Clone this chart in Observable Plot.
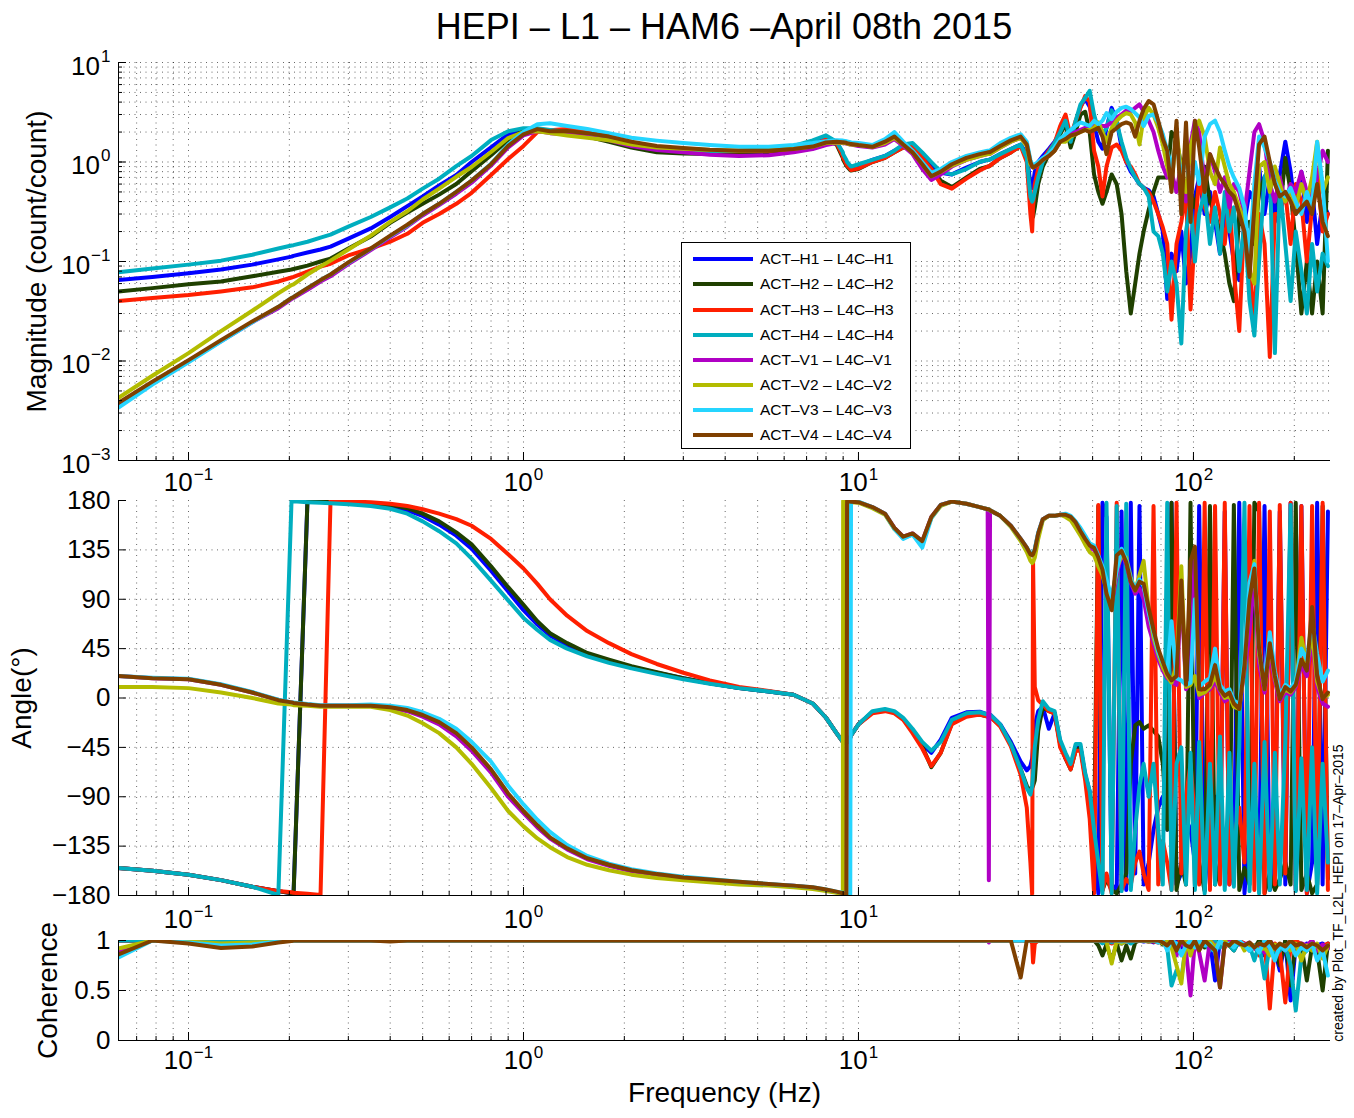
<!DOCTYPE html>
<html><head><meta charset="utf-8">
<script src="https://cdn.jsdelivr.net/npm/d3@7"></script>
<script src="https://cdn.jsdelivr.net/npm/@observablehq/plot@0.6"></script>
<style>
body{margin:0;background:#fff;}
#wrap{position:relative;width:1354px;height:1118px;font-family:"Liberation Sans",Arial,Helvetica,sans-serif;overflow:hidden;background:#fff;}
.panel{position:absolute;left:0;}
#title{position:absolute;left:118px;width:1212px;top:5px;text-align:center;font-size:36px;line-height:44px;color:#000;white-space:nowrap;}
#legend{position:absolute;left:681px;top:242px;width:230px;height:207px;border:1px solid #000;background:#fff;box-sizing:border-box;}
.lgline{position:absolute;left:11px;width:60px;height:4px;}
.lgtext{position:absolute;left:78px;font-size:15.5px;line-height:20px;white-space:nowrap;color:#000;}
#side{position:absolute;left:1338px;top:893px;transform:translate(-50%,-50%) rotate(-90deg);font-size:14px;white-space:nowrap;color:#000;}
#err{position:absolute;left:10px;top:10px;color:red;font-size:14px;}
</style></head>
<body>
<div id="wrap">
  <div id="title">HEPI – L1 – HAM6 –April 08th 2015</div>
  <div id="p1" class="panel" style="top:0px"></div>
  <div id="p2" class="panel" style="top:460px"></div>
  <div id="p3" class="panel" style="top:900px"></div>
  <div id="legend"></div>
  <div id="side">created by Plot_TF_L2L_HEPI on 17–Apr–2015</div>
  <div id="err"></div>
</div>
<script>
// ---------------- DATA ----------------
const freq = [
  0.0618, 0.078, 0.1, 0.125, 0.155, 0.1854, 0.203, 0.2058, 0.2265, 0.2478,
  0.2654, 0.3, 0.35, 0.4, 0.45, 0.5, 0.56, 0.63, 0.7, 0.8,
  0.9, 1.0, 1.1, 1.2, 1.35, 1.55, 1.8, 2.1, 2.5, 3.0,
  3.6, 4.4, 5.4, 6.4, 7.3, 8.0, 8.6, 8.98, 9.0, 9.2,
  9.25, 9.45, 9.5, 10.0, 11.0, 12.0, 12.8, 13.6, 14.5, 15.5,
  16.5, 17.6, 19.0, 21.0, 23.0, 24.3, 24.5, 24.7, 26.5, 28.5,
  30.5, 31.8, 32.6, 33.0, 33.2, 33.6, 34.4, 35.5, 37.0, 38.5, 40.0,
  41.5, 43, 44.5, 46, 47.5,
  49, 50.5, 52, 53.5, 55,
  57, 59, 61, 63, 65,
  67, 69, 71, 73.5, 76,
  78.5, 81, 83.5, 86, 89,
  92, 95, 98, 101, 104,
  108, 112, 116, 120, 124,
  128, 132, 137, 142, 147,
  152, 157, 163, 169, 175,
  181, 188, 195, 202, 210,
  218, 226, 234, 243, 252
];

const seriesNames = ["ACT–H1 – L4C–H1","ACT–H2 – L4C–H2","ACT–H3 – L4C–H3","ACT–H4 – L4C–H4",
                     "ACT–V1 – L4C–V1","ACT–V2 – L4C–V2","ACT–V3 – L4C–V3","ACT–V4 – L4C–V4"];
const seriesColors = ["#0000ff","#1f4000","#ff1f00","#00aebf","#b000c4","#b3bc00","#25d5ff","#7f4000"];

// Magnitude (count/count)
const magH1 = [
  0.065, 0.070, 0.076, 0.083, 0.093, 0.105, 0.112, 0.114, 0.123, 0.132,
  0.141, 0.17, 0.215, 0.28, 0.36, 0.45, 0.58, 0.74, 1.0, 1.4,
  1.9, 2.14, 2.14, 2.04, 1.95, 1.8, 1.65, 1.45, 1.35, 1.3,
  1.28, 1.28, 1.3, 1.4, 1.6, 1.8, 1.6, 1.2, 1.15, 1.0,
  0.97, 0.9, 0.88, 0.92, 1.05, 1.15, 1.3, 1.45, 1.5, 1.2,
  0.95, 0.78, 0.75, 0.88, 1.0, 1.05, 1.05, 1.06, 1.2, 1.35,
  1.5, 1.2, 0.6, 0.55, 0.6, 0.8, 1.0, 1.15, 1.35, 1.6, 2.0,
  2.6, 1.5, 2.4, 3.6, 4.3,
  3.6, 2.4, 1.6, 1.36, 2.2,
  3.5, 2.6, 1.4, 1.0, 0.8,
  0.7, 0.6, 0.55, 0.52, 0.45,
  0.3, 0.2, 0.042, 0.12, 0.08,
  0.2, 0.06, 0.12, 0.45, 0.7,
  0.3, 0.5, 0.25, 0.12, 0.3,
  0.2, 0.1, 0.065, 0.25, 0.5,
  0.4, 0.9, 0.3, 0.7, 0.25,
  0.75, 1.6, 0.8, 0.3, 0.8,
  0.25, 0.55, 0.15, 0.4, 0.3
];
const magH2 = [
  0.050, 0.054, 0.059, 0.063, 0.071, 0.079, 0.083, 0.084, 0.091, 0.10,
  0.107, 0.135, 0.178, 0.245, 0.31, 0.38, 0.47, 0.6, 0.81, 1.17,
  1.66, 2.09, 2.14, 2.04, 1.95, 1.8, 1.6, 1.4, 1.25, 1.22,
  1.2, 1.2, 1.22, 1.28, 1.4, 1.65, 1.5, 1.1, 1.05, 0.92,
  0.9, 0.83, 0.82, 0.85, 1.0, 1.1, 1.25, 1.4, 1.45, 1.1,
  0.85, 0.65, 0.56, 0.7, 0.85, 0.9, 0.9, 0.92, 1.1, 1.25,
  1.45, 1.1, 0.4, 0.3, 0.28, 0.35, 0.6, 0.9, 1.2, 1.5, 1.9,
  2.4, 1.4, 2.0, 3.0, 3.2,
  2.0, 0.75, 0.5, 0.38, 0.5,
  0.75, 0.6, 0.3, 0.08, 0.03,
  0.06, 0.12, 0.2, 0.33, 0.5,
  0.7, 0.7, 0.7, 2.0, 1.7,
  0.9, 1.2, 0.5, 0.35, 0.6,
  0.9, 0.4, 0.3, 0.2, 0.12,
  0.06, 0.04, 0.3, 0.2, 0.25,
  0.15, 0.5, 0.7, 0.9, 0.8,
  0.3, 1.1, 0.5, 0.15, 0.03,
  0.1, 0.03, 0.1, 0.03, 1.3
];
const magH3 = [
  0.040, 0.043, 0.046, 0.050, 0.055, 0.063, 0.069, 0.070, 0.079, 0.089,
  0.095, 0.115, 0.135, 0.158, 0.19, 0.245, 0.30, 0.38, 0.49, 0.74,
  1.07, 1.45, 2.0, 2.09, 2.15, 2.0, 1.8, 1.55, 1.4, 1.35,
  1.3, 1.28, 1.3, 1.35, 1.45, 1.7, 1.55, 1.15, 1.1, 0.95,
  0.92, 0.85, 0.83, 0.86, 1.0, 1.1, 1.25, 1.4, 1.45, 1.1,
  0.85, 0.6, 0.54, 0.68, 0.82, 0.9, 0.9, 0.92, 1.1, 1.25,
  1.45, 1.0, 0.3, 0.2, 0.35, 0.6, 0.85, 1.05, 1.3, 1.55, 2.3,
  3.0, 1.8, 2.6, 3.5, 4.6,
  4.0, 1.3, 0.9, 0.45, 0.9,
  1.4, 1.5, 1.3, 1.0, 0.9,
  0.75, 0.6, 0.55, 0.5, 0.4,
  0.3, 0.22, 0.15, 0.026, 0.15,
  0.25, 0.5, 0.033, 0.2, 0.7,
  0.35, 0.25, 0.5, 0.3, 0.15,
  0.45, 0.08, 0.02, 0.3, 0.1,
  0.022, 0.3, 0.15, 0.011, 0.3,
  0.3, 0.5, 0.15, 0.6, 0.4,
  0.1, 0.35, 0.8, 0.2, 0.3
];
const magH4 = [
  0.078, 0.085, 0.093, 0.102, 0.117, 0.135, 0.145, 0.146, 0.158, 0.174,
  0.186, 0.224, 0.28, 0.35, 0.43, 0.54, 0.68, 0.91, 1.15, 1.66,
  2.04, 2.19, 2.19, 2.1, 2.0, 1.85, 1.7, 1.5, 1.35, 1.3,
  1.28, 1.3, 1.35, 1.45, 1.65, 1.85, 1.6, 1.25, 1.2, 1.05,
  1.0, 0.92, 0.9, 0.95, 1.05, 1.15, 1.3, 1.5, 1.55, 1.25,
  1.0, 0.8, 0.75, 0.85, 1.0, 1.05, 1.05, 1.06, 1.2, 1.35,
  1.5, 1.1, 0.45, 0.4, 0.42, 0.5, 0.7, 1.0, 1.25, 1.55, 2.0,
  2.6, 1.6, 2.6, 3.8, 4.4,
  5.2, 3.0, 2.1, 1.9, 2.2,
  3.3, 2.5, 1.6, 1.1, 0.85,
  0.7, 0.6, 0.55, 0.45, 0.2,
  0.18, 0.12, 0.05, 0.1, 0.06,
  0.015, 0.2, 0.4, 0.1, 0.3,
  0.5, 0.15, 0.35, 0.12, 0.5,
  0.2, 0.35, 0.08, 0.25, 0.04,
  0.018, 0.1, 0.7, 0.9, 0.012,
  0.6, 0.15, 0.04, 0.2, 0.08,
  0.03, 0.15, 0.05, 0.12, 0.09
];
const magV1 = [
  0.0037, 0.0061, 0.0100, 0.0158, 0.0245, 0.034, 0.042, 0.043, 0.052, 0.063,
  0.071, 0.094, 0.13, 0.175, 0.225, 0.29, 0.37, 0.48, 0.62, 0.92,
  1.4, 1.85, 2.05, 1.95, 1.9, 1.8, 1.65, 1.45, 1.32, 1.25,
  1.18, 1.15, 1.17, 1.25, 1.35, 1.48, 1.55, 1.55, 1.55, 1.53,
  1.52, 1.5, 1.5, 1.45, 1.4, 1.5, 1.7, 1.45, 1.2, 0.85,
  0.66, 0.75, 0.9, 1.05, 1.15, 1.2, 1.2, 1.21, 1.4, 1.6,
  1.75, 1.5, 1.0, 0.9, 0.88, 0.9, 0.95, 1.05, 1.15, 1.3, 1.6,
  1.7, 1.9, 2.0, 2.1, 2.2,
  2.2, 2.3, 2.4, 2.3, 2.3,
  2.5, 2.8, 3.0, 3.3, 3.2,
  3.5, 3.8, 3.2, 2.6, 2.0,
  1.3, 0.9, 0.7, 0.8, 0.5,
  1.0, 0.4, 1.5, 2.6, 2.0,
  0.6, 1.2, 0.8, 0.5, 0.7,
  0.35, 0.6, 0.5, 0.3, 0.8,
  2.0, 2.4, 1.6, 0.6, 0.4,
  0.7, 0.4, 0.6, 0.5, 0.8,
  0.5, 0.45, 0.7, 1.3, 1.0
];
const magV2 = [
  0.00427, 0.0071, 0.012, 0.020, 0.032, 0.048, 0.058, 0.059, 0.074, 0.089,
  0.102, 0.132, 0.182, 0.25, 0.32, 0.42, 0.54, 0.71, 0.89, 1.26,
  1.74, 2.0, 2.04, 1.95, 1.85, 1.75, 1.65, 1.5, 1.4, 1.36,
  1.32, 1.3, 1.31, 1.36, 1.43, 1.55, 1.57, 1.56, 1.56, 1.54,
  1.53, 1.5, 1.5, 1.48, 1.42, 1.55, 1.75, 1.5, 1.25, 0.95,
  0.72, 0.8, 0.92, 1.05, 1.15, 1.2, 1.2, 1.21, 1.4, 1.6,
  1.75, 1.45, 0.95, 0.9, 0.88, 0.9, 0.95, 1.05, 1.15, 1.3, 1.6,
  1.6, 1.8, 1.9, 2.0, 2.1,
  2.1, 2.2, 2.5, 2.0, 1.6,
  2.2, 2.6, 2.9, 3.1, 3.0,
  2.5, 1.5, 2.8, 3.5, 3.0,
  2.2, 1.5, 0.9, 0.6, 2.0,
  0.8, 0.5, 1.4, 2.2, 2.6,
  1.8, 0.8, 0.6, 1.4, 0.9,
  0.6, 0.5, 0.35, 0.25, 0.08,
  0.06, 0.9, 1.0, 0.5, 0.9,
  0.6, 0.4, 0.5, 0.35, 0.6,
  0.4, 0.7, 1.6, 0.5, 0.7
];
const magV3 = [
  0.0034, 0.0058, 0.0097, 0.0157, 0.0245, 0.035, 0.043, 0.044, 0.054, 0.065,
  0.074, 0.097, 0.134, 0.18, 0.23, 0.30, 0.38, 0.50, 0.65, 0.96,
  1.5, 2.0, 2.4, 2.45, 2.3, 2.15, 1.95, 1.75, 1.64, 1.55,
  1.48, 1.42, 1.42, 1.48, 1.55, 1.62, 1.65, 1.64, 1.64, 1.62,
  1.61, 1.58, 1.57, 1.55, 1.48, 1.7, 2.0, 1.6, 1.3, 1.0,
  0.78, 0.85, 1.0, 1.15, 1.25, 1.3, 1.3, 1.31, 1.55, 1.75,
  1.9, 1.6, 1.05, 0.95, 0.93, 0.95, 1.0, 1.1, 1.2, 1.4, 1.7,
  1.9, 2.1, 2.3, 2.5, 2.4,
  2.3, 2.6, 2.4, 2.6, 3.1,
  2.7, 3.2, 3.5, 3.6, 3.4,
  3.1, 2.8, 2.3, 2.9, 3.0,
  2.5, 1.9, 1.3, 0.9, 1.6,
  0.7, 1.2, 0.5, 1.0, 0.6,
  1.8, 2.4, 2.6, 2.0, 1.3,
  0.9, 0.7, 0.55, 0.35, 0.12,
  0.6, 1.8, 1.4, 1.0, 0.65,
  0.5, 0.45, 0.55, 0.4, 0.3,
  0.5, 0.35, 1.6, 0.6, 0.1
];
const magV4 = [
  0.0038, 0.0062, 0.0102, 0.0162, 0.025, 0.035, 0.043, 0.044, 0.054, 0.065,
  0.074, 0.098, 0.135, 0.182, 0.234, 0.30, 0.38, 0.50, 0.65, 0.95,
  1.45, 1.9, 2.14, 2.04, 2.05, 1.95, 1.8, 1.6, 1.45, 1.38,
  1.33, 1.3, 1.3, 1.35, 1.43, 1.57, 1.6, 1.58, 1.58, 1.56,
  1.55, 1.52, 1.52, 1.48, 1.42, 1.6, 1.8, 1.5, 1.25, 0.95,
  0.72, 0.8, 0.95, 1.1, 1.2, 1.25, 1.25, 1.26, 1.45, 1.65,
  1.8, 1.5, 1.0, 0.9, 0.88, 0.9, 0.95, 1.05, 1.15, 1.3, 1.6,
  1.7, 1.85, 1.9, 2.0, 2.1,
  2.0, 2.1, 2.2, 1.8, 1.2,
  2.0, 2.2, 2.4, 2.5, 2.4,
  1.8, 2.6, 3.4, 4.1, 3.8,
  2.6, 1.7, 1.3, 0.5, 2.6,
  0.3, 2.5, 0.25, 2.6, 1.4,
  0.5, 1.2, 0.9, 0.7, 0.6,
  0.5, 0.45, 0.3, 0.2, 0.07,
  0.35, 1.5, 1.8, 1.0, 0.6,
  0.45, 0.5, 0.4, 0.3, 0.35,
  0.4, 0.3, 0.6, 0.25, 0.18
];

// Phase (degrees)
const phH1 = [
  -155, -157.5, -161, -166, -172, -176, -178, -179.5, 179.5, 179,
  178.7, 178, 177, 175, 171, 166, 158, 148, 136, 116,
  97, 80, 67, 57, 48, 40, 34, 28, 23, 18,
  13.5, 9, 6, 3, -5, -18, -32, -40, -40.5, -41,
  -40, -36, -34, -24, -13, -11, -13, -19, -30, -42,
  -50, -38, -18, -13, -12.5, -15, -15, -15, -24, -40,
  -58, -66, -62, -55, -45, -25, -12, -8, -28, -14, -40,
  -55, -63, -45, -45, -70,
  -85, -130, -178, 178, 165,
  -170, -175, 170, -175, 178,
  -160, 175, -170, -150, -120,
  -100, -90, -120, 178, -170,
  -160, -110, -120, -150, 175,
  -175, -110, -90, -150, 170,
  -170, -140, 178, -178, -120,
  -100, -160, 175, -175, -130,
  170, -170, 178, -175, 175,
  -178, -150, 178, -170, 170
];
const phH2 = [
  -155, -157.5, -161, -166, -172, -176, -178, -179.5, 179.5, 179.2,
  179, 178.5, 177.5, 176, 173, 168, 161, 151, 140, 120,
  101, 85, 70, 59, 50, 41, 35, 29, 23.5, 18,
  13.5, 9, 6, 3, -5, -18, -32, -40, -40.5, -41,
  -40, -36, -34, -24, -13, -11, -13, -19, -30, -44,
  -63, -50, -23, -16, -15, -17, -17, -17, -25, -42,
  -65, -80, -85, -82, -80, -75, -30, -8, -12, -14, -42,
  -55, -65, -48, -45, -72,
  -90, -125, 175, -175, -165,
  -175, -178, -170, -160, -60,
  -25, -22, -28, -25, -30,
  -35, -60, -120, 178, -175,
  -150, -170, 178, -170, -150,
  -176, 175, -170, -150, -120,
  -160, 176, -175, -155, -170,
  178, 170, -178, -160, -175,
  -165, -150, -170, 178, -175,
  -160, -178, -170, 175, -165
];
const phH3 = [
  -155, -157.5, -161, -166, -172, -176, -177, -177.5, -178.5, -179.5,
  179.5, 179, 178.5, 177, 175, 172, 168, 163, 157, 145,
  131, 118, 104, 90, 75, 61, 50, 40, 31, 23,
  16, 10, 6.5, 3, -5, -18, -32, -40, -40.5, -41,
  -40, -36, -34, -24, -14, -12, -14, -20, -32, -46,
  -62, -50, -24, -17, -15, -17, -17, -17, -26, -44,
  -70, -100, -150, -179, 125, 10, -2, -6, -12, -14, -45,
  -55, -65, -48, -48, -75,
  -110, -178, 176, -176, -160,
  -178, 178, -175, -165, -170,
  -150, -140, -160, -175, 175,
  -170, -130, -150, -175, 178,
  -160, -90, -60, -110, -170,
  178, -175, 175, -170, 178,
  -170, -130, -100, -150, 175,
  -175, 178, -178, 170, -170,
  176, -160, 178, -175, 175,
  -178, 175, -170, 178, -175
];
const phH4 = [
  -155, -157.5, -161, -166, -172, -179.5, 179.5, 179.3, 178.5, 178,
  177.5, 176.5, 175, 172.5, 168, 161, 152, 141, 127, 107,
  89, 73, 62, 53, 45, 38, 32, 27, 22, 17,
  13, 9, 6, 3, -5, -18, -32, -40, -40.5, -41,
  -40, -36, -34, -24, -12, -10, -12, -18, -28, -40,
  -48, -40, -20, -14, -13, -15, -15, -15, -24, -42,
  -65, -82, -88, -80, -70, -45, -20, -3, -10, -12, -38,
  -50, -60, -42, -42, -68,
  -85, -120, -150, -178, 178,
  -178, 175, -176, 177, -175,
  -120, -80, -60, -90, -60,
  -120, -170, 178, -175, -60,
  -45, -170, -50, -175, -40,
  -178, -60, -170, -35, -175,
  -50, -172, -45, 178, -176,
  -60, -178, -40, -175, -50,
  -170, -40, 176, -176, -55,
  -175, -45, -178, -60, -150
];
const phV1 = [
  20, 18, 17, 12, 5, -2, -4, -4.5, -6, -7,
  -7, -7, -7, -9, -12, -17, -24, -35, -48, -68,
  -90, -105, -118, -128, -138, -147, -153, -158, -161, -164,
  -166, -168, -170, -171, -173, -175, -177, -178.5, -179, -179.5,
  179.5, 179, 178.8, 178.5, 174, 168, 155, 147, 150, 143,
  165, 176, 179, 177, 174, 172, -166, 171, 166, 157,
  145, 137, 131, 130, 131, 135, 150, 163, 166, 166, 167,
  167, 164, 158, 150, 143,
  137, 135, 125, 115, 100,
  85, 112, 132, 122, 105,
  95, 100, 90, 65, 50,
  35, 25, 18, 15, 12,
  100, 8, 15, 135, 0,
  5, 8, 15, 5, -3,
  0, -5, -8, 25, 60,
  110, 30, 5, 40, 15,
  -3, 5, 3, 10, 30,
  20, 55, 10, -5, -8
];
const phV2 = [
  10, 10, 9, 5, 0, -5, -6, -6.5, -7, -8,
  -8, -8, -8, -11, -16, -23, -32, -45, -60, -82,
  -103, -117, -128, -136, -145, -152, -157, -161, -164, -166,
  -168, -170, -171, -172.5, -174, -176, -177.5, -179, 179.5, 179,
  179, 178.5, 178.5, 178, 173, 167, 154, 146, 149, 142,
  164, 175, 179, 177, 174, 172, 172, 171, 166, 156,
  143, 133, 125, 123, 124, 128, 145, 162, 166, 166, 167,
  165, 162, 155, 148, 140,
  133, 130, 120, 112, 98,
  88, 118, 130, 128, 110,
  98, 112, 125, 80, 55,
  40, 28, 20, 14, 30,
  120, 10, 12, 20, 3,
  5, 10, 20, 8, 0,
  2, -8, -10, 30, 95,
  125, 40, 8, 50, 18,
  0, 8, 5, 12, 55,
  30, 60, 15, 0, 3
];
const phV3 = [
  20, 18.5, 17.5, 12.5, 5.5, -1.5, -4, -4, -5.5, -6.5,
  -6.5, -6.5, -6, -7, -9, -13, -19, -28, -40, -58,
  -80, -97, -111, -122, -134, -144, -151, -156, -160, -163,
  -165, -167.5, -169.5, -171, -172.5, -174.5, -176.5, -177.5, -178, -178.5,
  -179, -179.5, 179.5, 179, 174, 168, 154, 145, 149, 137,
  164, 176, 179, 177, 174, 172, 172, 171, 166, 157,
  145, 137, 132, 131, 132, 136, 151, 163, 166, 166, 167,
  168, 166, 161, 155, 148,
  141, 139, 130, 120, 108,
  92, 116, 136, 126, 108,
  100, 108, 102, 78, 60,
  42, 32, 24, 70, 18,
  16, 12, 14, 90, 10,
  15, 18, 45, 12, 6,
  8, -2, -6, 35, 105,
  122, 45, 12, 60, 25,
  2, 12, 9, 15, 45,
  35, 70, 40, 15, 25
];
const phV4 = [
  20, 18, 17, 12, 5, -2, -4, -4.5, -6, -7,
  -7, -7, -7, -8.5, -11, -15.5, -22, -32, -45, -65,
  -87, -103, -116, -127, -137, -146, -152, -157, -160.5, -163.5,
  -165.5, -167.5, -169.5, -171, -172.5, -174.5, -176.5, -178, -178.5, -179.5,
  179.5, 179, 178.8, 178.5, 174, 168, 155, 147, 150, 143,
  165, 176, 179, 177, 174, 172, 172, 171, 166, 157,
  145, 137, 131, 130, 131, 135, 150, 163, 166, 166, 167,
  167, 165, 160, 152, 145,
  139, 137, 128, 117, 95,
  80, 130, 134, 124, 106,
  98, 106, 104, 82, 62,
  45, 33, 22, 16, 20,
  107, 12, 125, 138, 8,
  8, 12, 30, 8, 2,
  5, -5, -10, 30, 90,
  118, 45, 8, 50, 20,
  -1, 10, 6, 12, 35,
  25, 83, 20, -1, 5
];

// Coherence
const cohH1 = [
  1, 1, 1, 1, 1, 1, 1, 1, 1, 1,
  1, 1, 1, 1, 1, 1, 1, 1, 1, 1,
  1, 1, 1, 1, 1, 1, 1, 1, 1, 1,
  1, 1, 1, 1, 1, 1, 1, 1, 1, 1,
  1, 1, 1, 1, 1, 1, 1, 1, 1, 1,
  1, 1, 1, 1, 1, 1, 1, 1, 1, 1,
  1, 1, 1, 1, 1, 1, 1, 1, 1, 1, 1,
  1, 1, 1, 1, 1,
  1, 1, 1, 0.99, 0.97,
  0.99, 1, 1, 1, 1,
  1, 1, 0.99, 1, 0.98,
  1, 0.97, 1, 0.95, 1,
  0.93, 1, 0.9, 1, 0.97,
  1, 1, 0.6, 1, 0.98,
  0.95, 1, 0.96, 0.97, 0.9,
  0.95, 0.97, 0.85, 1, 0.9,
  0.7, 1, 0.4, 0.95, 0.85,
  0.97, 0.9, 0.95, 0.97, 0.93
];
const cohH2 = [
  1, 1, 1, 1, 1, 1, 1, 1, 1, 1,
  1, 1, 1, 1, 1, 1, 1, 1, 1, 1,
  1, 1, 1, 1, 1, 1, 1, 1, 1, 1,
  1, 1, 1, 1, 1, 1, 1, 1, 1, 1,
  1, 1, 1, 1, 1, 1, 1, 1, 1, 1,
  1, 1, 1, 1, 1, 1, 1, 1, 1, 1,
  1, 1, 1, 1, 1, 1, 1, 1, 1, 1, 1,
  1, 1, 1, 1, 1,
  1, 1, 0.95, 0.85, 0.96,
  0.8, 0.97, 0.8, 0.95, 0.82,
  0.98, 1, 1, 0.99, 1,
  1, 0.96, 1, 0.93, 0.97,
  1, 0.95, 0.98, 0.94, 1,
  0.93, 1, 0.97, 1, 0.96,
  0.95, 0.9, 1, 0.93, 0.97,
  0.92, 1, 0.95, 1, 0.9,
  0.75, 1, 0.55, 0.98, 0.95,
  0.6, 0.95, 0.9, 0.5, 0.97
];
const cohH3 = [
  1, 1, 1, 1, 1, 1, 1, 1, 1, 1,
  1, 1, 1, 1, 1, 1, 1, 1, 1, 1,
  1, 1, 1, 1, 1, 1, 1, 1, 1, 1,
  1, 1, 1, 1, 1, 1, 1, 1, 1, 1,
  1, 1, 1, 1, 1, 1, 1, 1, 1, 1,
  1, 1, 1, 1, 1, 1, 1, 1, 1, 1,
  1, 1, 1, 0.97, 0.78, 0.97, 1, 1, 1, 1, 1,
  1, 1, 1, 1, 1,
  1, 1, 1, 0.98, 1,
  0.97, 1, 0.97, 1, 0.98,
  1, 1, 1, 1, 0.99,
  0.98, 1, 0.95, 1, 0.97,
  1, 0.94, 0.96, 1, 0.98,
  0.96, 1, 0.95, 0.98, 0.93,
  1, 0.95, 1, 0.97, 0.92,
  0.95, 0.85, 1, 0.32, 0.97,
  0.9, 0.38, 0.95, 1, 0.96,
  0.93, 1, 0.9, 0.95, 0.97
];
const cohH4 = [
  1, 1, 1, 1, 1, 1, 1, 1, 1, 1,
  1, 1, 1, 1, 1, 1, 1, 1, 1, 1,
  1, 1, 1, 1, 1, 1, 1, 1, 1, 1,
  1, 1, 1, 1, 1, 1, 1, 1, 1, 1,
  1, 1, 1, 1, 1, 1, 1, 1, 1, 1,
  1, 1, 1, 1, 1, 1, 1, 1, 1, 1,
  1, 1, 1, 1, 1, 1, 1, 1, 1, 1, 1,
  1, 1, 1, 1, 1,
  1, 1, 1, 0.97, 1,
  0.98, 1, 0.97, 1, 0.97,
  1, 1, 1, 1, 1,
  0.98, 1, 0.93, 0.55, 0.7,
  0.62, 0.95, 0.9, 1, 0.95,
  0.97, 0.9, 1, 0.93, 0.98,
  0.95, 0.9, 1, 0.92, 0.95,
  0.8, 0.97, 0.62, 0.95, 0.85,
  0.9, 0.95, 0.75, 0.3, 0.85,
  0.9, 0.97, 0.93, 0.85, 0.95
];
const cohV1 = [
  0.9, 1, 0.99, 0.96, 0.97, 0.99, 1, 1, 1, 1,
  1, 1, 1, 1, 1, 1, 1, 1, 1, 1,
  1, 1, 1, 1, 1, 1, 1, 1, 1, 1,
  1, 1, 1, 1, 1, 1, 1, 1, 1, 1,
  1, 1, 1, 1, 1, 1, 1, 1, 1, 1,
  1, 1, 1, 1, 1, 1, 0.98, 1, 1, 1,
  1, 1, 1, 1, 1, 1, 1, 1, 1, 1, 1,
  1, 1, 1, 1, 1,
  1, 1, 1, 1, 1,
  1, 0.98, 1, 1, 1,
  1, 1, 1, 0.99, 1,
  1, 0.99, 1, 0.97, 0.85,
  1, 0.9, 0.45, 1, 0.88,
  0.6, 1, 0.95, 0.53, 1,
  0.98, 1, 0.99, 0.96, 0.98,
  0.92, 0.95, 0.88, 1, 0.93,
  0.95, 0.9, 0.96, 0.93, 0.97,
  0.95, 1, 0.9, 0.96, 0.92
];
const cohV2 = [
  0.92, 1, 0.99, 0.97, 0.98, 0.99, 1, 1, 1, 1,
  1, 1, 1, 1, 1, 1, 1, 1, 1, 1,
  1, 1, 1, 1, 1, 1, 1, 1, 1, 1,
  1, 1, 1, 1, 1, 1, 1, 1, 1, 1,
  1, 1, 1, 1, 1, 1, 1, 1, 1, 1,
  1, 1, 1, 1, 1, 1, 1, 1, 1, 1,
  1, 1, 1, 1, 1, 1, 1, 1, 1, 1, 1,
  1, 1, 1, 1, 1,
  1, 1, 1, 1, 0.99,
  0.77, 1, 0.97, 1, 1,
  1, 1, 1, 0.99, 1,
  1, 0.97, 1, 0.93, 0.75,
  0.57, 1, 0.85, 1, 0.95,
  0.97, 1, 0.94, 0.98, 1,
  0.95, 0.98, 1, 0.9, 0.97,
  0.95, 0.9, 0.93, 0.85, 0.96,
  0.93, 0.95, 0.9, 0.97, 0.8,
  0.95, 0.9, 0.97, 0.82, 0.95
];
const cohV3 = [
  0.83, 1, 0.98, 0.95, 0.96, 0.99, 1, 1, 1, 1,
  1, 1, 1, 1, 1, 1, 1, 1, 1, 1,
  1, 1, 1, 1, 1, 1, 1, 1, 1, 1,
  1, 1, 1, 1, 1, 1, 1, 1, 1, 1,
  1, 1, 1, 1, 1, 1, 1, 1, 1, 1,
  1, 1, 1, 1, 1, 1, 1, 1, 1, 1,
  1, 1, 1, 1, 1, 1, 1, 1, 1, 1, 1,
  1, 1, 1, 1, 1,
  1, 1, 1, 1, 1,
  1, 1, 0.99, 1, 1,
  1, 1, 1, 1, 1,
  0.98, 1, 0.9, 1, 0.97,
  0.85, 0.95, 1, 0.93, 1,
  0.95, 0.97, 0.88, 1, 0.95,
  0.97, 0.93, 1, 0.95, 0.9,
  0.95, 0.88, 1, 0.93, 0.8,
  0.95, 0.9, 0.97, 0.85, 0.93,
  0.9, 0.97, 0.8, 0.9, 0.65
];
const cohV4 = [
  0.86, 1, 0.97, 0.925, 0.94, 0.98, 0.995, 1, 1, 1,
  1, 1, 1, 0.99, 1, 1, 1, 1, 1, 1,
  1, 1, 1, 1, 1, 1, 1, 1, 1, 1,
  1, 1, 1, 1, 1, 1, 1, 1, 1, 1,
  1, 1, 1, 1, 1, 1, 1, 1, 1, 1,
  1, 1, 1, 1, 1, 1, 1, 1, 1, 1,
  0.63, 1, 1, 1, 1, 1, 1, 1, 1, 1, 1,
  1, 1, 1, 1, 1,
  1, 1, 1, 1, 1,
  1, 1, 1, 1, 1,
  1, 1, 1, 1, 1,
  1, 0.98, 0.95, 1, 0.9,
  1, 0.95, 0.93, 1, 0.9,
  1, 0.95, 0.9, 0.53, 0.97,
  0.95, 1, 0.97, 0.95, 0.98,
  0.93, 0.97, 0.95, 1, 0.92,
  0.97, 0.94, 1, 0.95, 0.97,
  0.93, 0.97, 0.95, 0.9, 0.95
];

// Axis tick values
const xMajorTicks = [0.1, 1, 10, 100];
const magMajorTicks = [0.001, 0.01, 0.1, 1, 10];
const angleTicks = [-180, -135, -90, -45, 0, 45, 90, 135, 180];
const cohTicks = [0, 0.5, 1];

// ---------------- LAYOUT ----------------
const FONT = '"Liberation Sans", Arial, Helvetica, sans-serif';
const W = 1354, ML = 118, MR = 24, PW = W - ML - MR;
const XMIN = 0.0618, XMAX = 256.5;
const TICK_FS = 26, EXP_FS = 17, LABEL_FS = 28;

const arrays = {magH1,magH2,magH3,magH4,magV1,magV2,magV3,magV4,phH1,phH2,phH3,phH4,phV1,phV2,phV3,phV4,cohH1,cohH2,cohH3,cohH4,cohV1,cohV2,cohV3,cohV4};
const bad = Object.entries(arrays).filter(([k,a]) => a.length !== freq.length).map(([k,a]) => k + ":" + a.length);
if (bad.length) document.getElementById("err").textContent = "LEN " + freq.length + " " + bad.join(" ");

const mags = [magH1,magH2,magH3,magH4,magV1,magV2,magV3,magV4];
const phs = [phH1,phH2,phH3,phH4,phV1,phV2,phV3,phV4];
const cohs = [cohH1,cohH2,cohH3,cohH4,cohV1,cohV2,cohV3,cohV4];
const rows = seriesNames.flatMap((s, k) => freq.map((f, i) => ({f, s, mag: mags[k][i], ph: phs[k][i], coh: cohs[k][i]})));

function logTicks(lo, hi, kmin, kmax) {
  const out = [];
  for (let k = kmin; k <= kmax; k++) for (let m = 1; m <= 9; m++) {
    const v = +(m * Math.pow(10, k)).toPrecision(6);
    if (v >= lo * 0.9999 && v <= hi * 1.0001) out.push(v);
  }
  return out;
}
const xMinor = logTicks(XMIN, XMAX, -2, 2);
const magMinor = logTicks(0.001, 10, -3, 1);

const ctx = document.createElement("canvas").getContext("2d");
function tw(s, size) { ctx.font = `${size}px "Liberation Sans"`; return ctx.measureText(s).width; }
const expOf = v => String(Math.round(Math.log10(v))).replace("-", "\u2212");

const gridStyle = {stroke: "#000", strokeOpacity: 0.6, strokeWidth: 1, strokeDasharray: "1,4.5"};

function xDecadeLabels(dy) {
  return xMajorTicks.flatMap(v => {
    const e = expOf(v), w10 = tw("10", TICK_FS), we = tw(e, EXP_FS), T = w10 + 1 + we;
    return [
      Plot.text([v], {x: d => d, frameAnchor: "bottom", dy, dx: -T / 2, textAnchor: "start", text: () => "10", fontSize: TICK_FS}),
      Plot.text([v], {x: d => d, frameAnchor: "bottom", dy: dy - 11, dx: -T / 2 + w10 + 1, textAnchor: "start", text: () => e, fontSize: EXP_FS})
    ];
  });
}

function gridMarks(yGrid) {
  return [
    Plot.ruleX(xMinor, gridStyle),
    Plot.ruleY(yGrid, gridStyle)
  ];
}
function axisMarks(plotH, yMin, yMajor, yMinor) {
  return [
    Plot.tickX(xMinor, {x: d => d, insetTop: plotH - 4, stroke: "#000"}),
    Plot.tickX(xMajorTicks, {x: d => d, insetTop: plotH - 8, stroke: "#000"}),
    Plot.tickY(yMinor, {y: d => d, insetRight: PW - 4, stroke: "#000"}),
    Plot.tickY(yMajor, {y: d => d, insetRight: PW - 8, stroke: "#000"}),
    Plot.ruleX([XMIN], {stroke: "#000"}),
    Plot.ruleY([yMin], {stroke: "#000"})
  ];
}
const lineOpts = y => ({x: "f", y, z: "s", stroke: "s", strokeWidth: 4, strokeLinejoin: "round", strokeLinecap: "round", clip: true});
const yTitle = (t, dx) => Plot.text([t], {frameAnchor: "left", dx, rotate: -90, textAnchor: "middle", lineAnchor: "middle", text: d => d, fontSize: LABEL_FS});
const common = {
  width: W, marginLeft: ML, marginRight: MR,
  x: {type: "log", domain: [XMIN, XMAX], axis: null},
  color: {domain: seriesNames, range: seriesColors},
  style: {background: "transparent", overflow: "visible", fontFamily: FONT, color: "#000"}
};

// Top: magnitude
const H1 = 398;
const p1 = Plot.plot({
  ...common, height: 62 + H1 + 40, marginTop: 62, marginBottom: 40,
  y: {type: "log", domain: [0.001, 10], axis: null},
  marks: [
    ...gridMarks(magMinor),
    Plot.line(rows, lineOpts("mag")),
    ...axisMarks(H1, 0.001, magMajorTicks, magMinor),
    ...xDecadeLabels(30),
    ...magMajorTicks.flatMap(v => {
      const e = expOf(v), we = tw(e, EXP_FS);
      return [
        Plot.text([v], {y: d => d, frameAnchor: "left", dx: -8, dy: -6, textAnchor: "end", text: () => e, fontSize: EXP_FS}),
        Plot.text([v], {y: d => d, frameAnchor: "left", dx: -9 - we, dy: 4, textAnchor: "end", text: () => "10", fontSize: TICK_FS})
      ];
    }),
    yTitle("Magnitude (count/count)", -81)
  ]
});
document.getElementById("p1").appendChild(p1);

// Middle: angle
const H2 = 395;
const p2 = Plot.plot({
  ...common, height: 40 + H2 + 45, marginTop: 40, marginBottom: 45,
  y: {domain: [-180, 180], axis: null},
  marks: [
    ...gridMarks([-135, -90, -45, 0, 45, 90, 135]),
    Plot.line(rows, lineOpts("ph")),
    ...axisMarks(H2, -180, angleTicks, []),
    ...xDecadeLabels(32),
    Plot.text(angleTicks, {y: d => d, frameAnchor: "left", dx: -8, textAnchor: "end", text: d => String(d).replace("-", "\u2212"), fontSize: TICK_FS}),
    yTitle("Angle(°)", -96)
  ]
});
document.getElementById("p2").appendChild(p2);

// Bottom: coherence
const H3 = 100;
const p3 = Plot.plot({
  ...common, height: 40 + H3 + 78, marginTop: 40, marginBottom: 78,
  y: {domain: [0, 1], axis: null},
  marks: [
    ...gridMarks([0.5]),
    Plot.line(rows, lineOpts("coh")),
    ...axisMarks(H3, 0, cohTicks, []),
    ...xDecadeLabels(28),
    Plot.text(cohTicks, {y: d => d, frameAnchor: "left", dx: -8, textAnchor: "end", text: d => String(d), fontSize: TICK_FS}),
    yTitle("Coherence", -70),
    Plot.text(["Frequency (Hz)"], {frameAnchor: "bottom", dy: 61, textAnchor: "middle", text: d => d, fontSize: LABEL_FS})
  ]
});
document.getElementById("p3").appendChild(p3);

// Legend
const lg = document.getElementById("legend");
seriesNames.forEach((n, i) => {
  const cy = 16.3 + 25.1 * i;
  const l = document.createElement("div"); l.className = "lgline"; l.style.top = (cy - 2) + "px"; l.style.background = seriesColors[i];
  const t = document.createElement("div"); t.className = "lgtext"; t.style.top = (cy - 10) + "px"; t.textContent = n;
  lg.appendChild(l); lg.appendChild(t);
});
</script>
</body></html>
